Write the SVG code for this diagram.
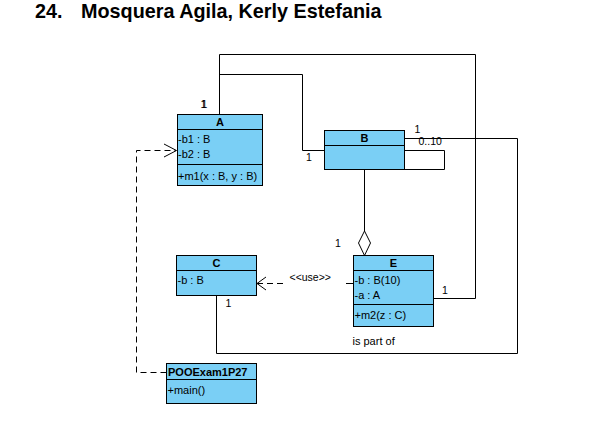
<svg xmlns="http://www.w3.org/2000/svg" width="599" height="440" viewBox="0 0 599 440">
<style>
.box{fill:#7acff5;stroke:#000;stroke-width:1}
.sep{stroke:#000;stroke-width:1}
.t{font-family:"Liberation Sans",Arial,sans-serif;font-size:11px;fill:#000}
.b{font-family:"Liberation Sans",Arial,sans-serif;font-size:11px;font-weight:bold;fill:#000}
.m{font-family:"Liberation Sans",Arial,sans-serif;font-size:10.5px;fill:#000}
.ln{fill:none;stroke:#000;stroke-width:1}
.dash{fill:none;stroke:#000;stroke-width:1;stroke-dasharray:6,4}
.title{font-family:"Liberation Sans",Arial,sans-serif;font-size:19.8px;font-weight:bold;fill:#000}
</style>
<rect width="599" height="440" fill="#fff"/>
<g id="title">
<text class="title" x="35" y="17.5">24.</text>
<text class="title" x="81" y="17.5">Mosquera Agila, Kerly Estefania</text>
</g>
<g id="connectors">
<polyline class="ln" points="219.5,114.5 219.5,54.5 475.5,54.5 475.5,298.5 433.5,298.5"/>
<polyline class="ln" points="219.5,74.5 302.5,74.5 302.5,150.5 324.5,150.5"/>
<polyline class="ln" points="404.5,150.5 444.5,150.5 444.5,169.5 404.5,169.5"/>
<polyline class="ln" points="404.5,138.5 517.5,138.5 517.5,353.5 216.5,353.5 216.5,295.5"/>
<line class="ln" x1="364.5" y1="170" x2="364.5" y2="231"/>
<polygon points="364.5,231 370.5,243 364.5,255.5 358.5,243" fill="#fff" stroke="#000" stroke-width="1"/>
<line class="dash" x1="257" y1="283.5" x2="283" y2="283.5"/>
<line class="ln" x1="346" y1="283.5" x2="353" y2="283.5"/>
<polyline class="ln" points="266,277 257,283.5 266,290"/>
<polyline class="dash" points="166.5,372.5 136.5,372.5 136.5,150.5 176,150.5"/>
<polyline class="ln" points="164,144 176.5,150.5 164,157"/>
</g>
<g id="labels">
<text class="m" x="200.5" y="107.5">1</text>
<text class="m" x="201.5" y="108">1</text>
<text class="m" x="306" y="161">1</text>
<text class="m" x="414.5" y="133">1</text>
<text class="m" x="418.5" y="144.5">0..10</text>
<text class="m" x="335" y="247">1</text>
<text class="m" x="442" y="293.5">1</text>
<text class="m" x="225.5" y="307">1</text>
<text class="m" x="289.5" y="280.5">&lt;&lt;use&gt;&gt;</text>
<text class="t" x="352.5" y="344.5">is part of</text>
</g>
<g id="A">
<rect class="box" x="177.5" y="114.5" width="85" height="71"/>
<line class="sep" x1="177.5" y1="129.5" x2="262.5" y2="129.5"/>
<line class="sep" x1="177.5" y1="164.5" x2="262.5" y2="164.5"/>
<text class="b" x="220" y="126" text-anchor="middle">A</text>
<text class="t" x="178" y="143">-b1 : B</text>
<text class="t" x="178" y="158">-b2 : B</text>
<text class="t" x="178" y="180">+m1(x : B, y : B)</text>
</g>
<g id="B">
<rect class="box" x="324.5" y="130.5" width="80" height="39"/>
<line class="sep" x1="324.5" y1="145.5" x2="404.5" y2="145.5"/>
<text class="b" x="364.5" y="141.5" text-anchor="middle">B</text>
</g>
<g id="C">
<rect class="box" x="176.5" y="255.5" width="80" height="40"/>
<line class="sep" x1="176.5" y1="270.5" x2="256.5" y2="270.5"/>
<text class="b" x="216.5" y="266.5" text-anchor="middle">C</text>
<text class="t" x="177.5" y="284">-b : B</text>
</g>
<g id="E">
<rect class="box" x="353.5" y="255.5" width="80" height="71"/>
<line class="sep" x1="353.5" y1="270.5" x2="433.5" y2="270.5"/>
<line class="sep" x1="353.5" y1="304.5" x2="433.5" y2="304.5"/>
<text class="b" x="393.5" y="266.5" text-anchor="middle">E</text>
<text class="t" x="354.5" y="284">-b : B(10)</text>
<text class="t" x="354.5" y="299">-a : A</text>
<text class="t" x="354.5" y="319">+m2(z : C)</text>
</g>
<g id="POOExam1P27">
<rect class="box" x="166.5" y="363.5" width="90" height="40"/>
<line class="sep" x1="166.5" y1="379.5" x2="256.5" y2="379.5"/>
<text class="b" x="168" y="375.5">POOExam1P27</text>
<text class="t" x="167.5" y="394">+main()</text>
</g>
</svg>
